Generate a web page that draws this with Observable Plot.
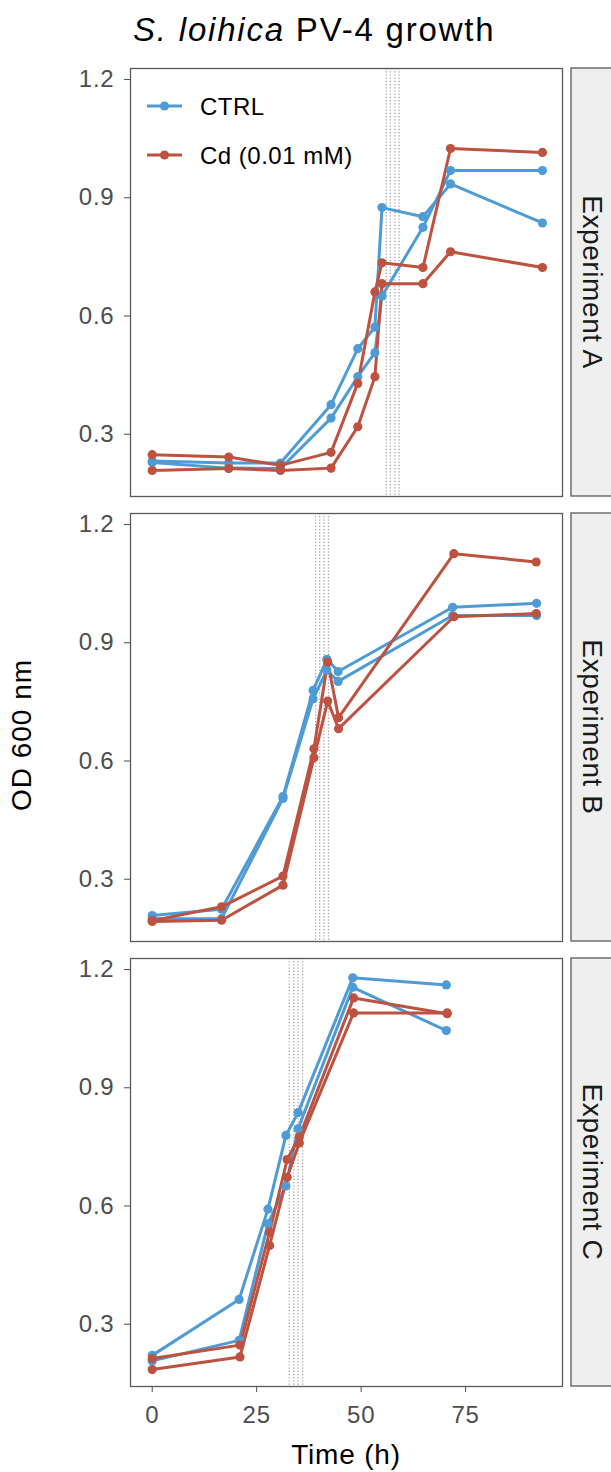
<!DOCTYPE html>
<html><head><meta charset="utf-8">
<script src="https://cdn.jsdelivr.net/npm/d3@7"></script>
<script src="https://cdn.jsdelivr.net/npm/@observablehq/plot@0.6"></script>
<style>
body{margin:0;background:#fff;font-family:"Liberation Sans",Arial,Helvetica,sans-serif;}
#wrap{position:relative;width:611px;height:1472px;overflow:hidden;background:#fff;}
.abs{position:absolute;white-space:nowrap;color:#000;}
</style></head><body><div id="wrap"></div>
<script>
// ---------- data ----------
const experiments = ["Experiment A", "Experiment B", "Experiment C"];
const conditions = ["CTRL", "Cd (0.01 mM)"];
const conditionColors = ["#4e9bd5", "#bd5240"];
const xTicks = [0, 25, 50, 75];
const yTicks = [0.3, 0.6, 0.9, 1.2];

// Experiment A
const expA_timeCtrl = [0, 18.3, 30.7, 42.8, 49.2, 53.3, 55.0, 64.8, 71.4, 93.4];
const expA_ctrl1    = [0.232, 0.227, 0.227, 0.375, 0.517, 0.572, 0.875, 0.852, 0.935, 0.836];
const expA_ctrl2    = [0.228, 0.214, 0.213, 0.341, 0.446, 0.507, 0.651, 0.825, 0.969, 0.969];
const expA_timeCd   = [0, 18.3, 30.7, 42.8, 49.2, 53.3, 55.0, 64.8, 71.4, 93.4];
const expA_cd1      = [0.248, 0.242, 0.221, 0.254, 0.429, 0.661, 0.735, 0.723, 1.025, 1.015];
const expA_cd2      = [0.208, 0.213, 0.208, 0.214, 0.319, 0.446, 0.682, 0.682, 0.763, 0.723];

// Experiment B
const expB_timeCtrl = [0, 16.6, 31.3, 38.5, 41.8, 44.5, 71.9, 92.0];
const expB_ctrl1    = [0.208, 0.224, 0.510, 0.779, 0.858, 0.827, 0.990, 1.000];
const expB_ctrl2    = [0.200, 0.200, 0.505, 0.758, 0.830, 0.802, 0.969, 0.969];
const expB_timeCd   = [0, 16.6, 31.3, 38.7, 42.0, 44.6, 72.2, 91.9];
const expB_cd1      = [0.195, 0.230, 0.308, 0.631, 0.851, 0.710, 1.126, 1.105];
const expB_cd2      = [0.193, 0.196, 0.285, 0.608, 0.752, 0.682, 0.966, 0.974];

// Experiment C
const expC_timeCtrl = [0, 20.8, 27.7, 32.0, 34.9, 48.0, 70.4];
const expC_ctrl1    = [0.221, 0.363, 0.592, 0.779, 0.837, 1.179, 1.161];
const expC_ctrl2    = [0.207, 0.259, 0.555, 0.651, 0.796, 1.155, 1.045];
const expC_timeCd   = [0, 21.0, 28.1, 32.3, 35.2, 48.2, 70.6];
const expC_cd1      = [0.213, 0.247, 0.534, 0.718, 0.775, 1.128, 1.088];
const expC_cd2      = [0.185, 0.217, 0.500, 0.673, 0.760, 1.090, 1.090];

// dotted vertical reference lines (h)
const expA_vlines = [56.0, 57.0, 58.1, 59.1];
const expB_vlines = [39.1, 40.1, 41.1, 42.2];
const expC_vlines = [32.8, 33.9, 34.9, 36.0];

// ---------- build table ----------
const rows = [];
function addSeries(exp, cond, rep, times, values) {
  times.forEach((t, i) => rows.push({exp, cond, key: exp + "|" + cond + "|" + rep, time: t, od: values[i]}));
}
addSeries(experiments[0], conditions[0], 1, expA_timeCtrl, expA_ctrl1);
addSeries(experiments[0], conditions[0], 2, expA_timeCtrl, expA_ctrl2);
addSeries(experiments[0], conditions[1], 1, expA_timeCd, expA_cd1);
addSeries(experiments[0], conditions[1], 2, expA_timeCd, expA_cd2);
addSeries(experiments[1], conditions[0], 1, expB_timeCtrl, expB_ctrl1);
addSeries(experiments[1], conditions[0], 2, expB_timeCtrl, expB_ctrl2);
addSeries(experiments[1], conditions[1], 1, expB_timeCd, expB_cd1);
addSeries(experiments[1], conditions[1], 2, expB_timeCd, expB_cd2);
addSeries(experiments[2], conditions[0], 1, expC_timeCtrl, expC_ctrl1);
addSeries(experiments[2], conditions[0], 2, expC_timeCtrl, expC_ctrl2);
addSeries(experiments[2], conditions[1], 1, expC_timeCd, expC_cd1);
addSeries(experiments[2], conditions[1], 2, expC_timeCd, expC_cd2);
const vlines = [expA_vlines, expB_vlines, expC_vlines];

// ---------- layout ----------
const FONT = '"Liberation Sans", Arial, Helvetica, sans-serif';
const wrap = document.getElementById("wrap");
const frameTops = [68, 513, 958];
const PH = 428, MT = 10;

experiments.forEach((exp, i) => {
  const last = i === experiments.length - 1;
  const MB = last ? 80 : 8;
  const data = rows.filter(d => d.exp === exp);
  const svg = Plot.plot({
    width: 611,
    height: MT + PH + MB,
    marginTop: MT, marginBottom: MB, marginLeft: 130, marginRight: 49,
    x: {domain: [-5.2, 98.2], ticks: xTicks, tickSize: 6, tickPadding: 13, label: null, axis: last ? "bottom" : null},
    y: {domain: [0.142, 1.228], ticks: yTicks, tickFormat: d => d.toFixed(1), tickSize: 6, tickPadding: 10, label: null},
    color: {domain: conditions, range: conditionColors},
    style: {fontFamily: FONT, fontSize: "24px", color: "#4d4d4d", background: "transparent", overflow: "visible", letterSpacing: "0.8px"},
    marks: [
      Plot.ruleX(vlines[i], {x: d => d, stroke: "#a0a0a0", strokeWidth: 1.3, strokeDasharray: "1.2,2"}),
      Plot.line(data, {x: "time", y: "od", z: "key", stroke: "cond", strokeWidth: 3}),
      Plot.dot(data, {x: "time", y: "od", fill: "cond", r: 4.6}),
      Plot.frame({stroke: "#5a5a5a", strokeWidth: 1.3})
    ]
  });
  const s = d3.select(svg);
  // facet strip
  s.append("rect").attr("x", 571).attr("y", MT).attr("width", 60).attr("height", PH)
    .attr("fill", "#efefef").attr("stroke", "#5a5a5a").attr("stroke-width", 1.3);
  s.append("text").attr("transform", `translate(592,${MT + PH / 2}) rotate(90)`)
    .attr("text-anchor", "middle").attr("dominant-baseline", "central")
    .attr("font-size", 28).attr("fill", "#1a1a1a").attr("letter-spacing", "0.6px").text(exp);
  // legend inside first panel
  if (i === 0) {
    conditions.forEach((c, k) => {
      const y = 48 + k * 49;
      s.append("line").attr("x1", 147).attr("x2", 182).attr("y1", y).attr("y2", y)
        .attr("stroke", conditionColors[k]).attr("stroke-width", 3);
      s.append("circle").attr("cx", 164.5).attr("cy", y).attr("r", 4.6).attr("fill", conditionColors[k]);
      s.append("text").attr("x", 200).attr("y", y).attr("text-anchor", "start").attr("dominant-baseline", "central")
        .attr("font-size", 24).attr("fill", "#000").attr("letter-spacing", "0.5px").text(c);
    });
  }
  svg.style.position = "absolute";
  svg.style.left = "0px";
  svg.style.top = (frameTops[i] - MT) + "px";
  wrap.appendChild(svg);
});

// title
const title = document.createElement("div");
title.className = "abs";
title.style.cssText += "left:133px;top:13px;font-size:33px;line-height:33px;letter-spacing:1.8px;";
title.innerHTML = "<i>S. loihica</i> PV-4 growth";
wrap.appendChild(title);

// y axis title
const ylab = document.createElement("div");
ylab.className = "abs";
ylab.style.cssText += "left:22px;top:735px;font-size:28px;line-height:28px;letter-spacing:1px;transform:translate(-50%,-50%) rotate(-90deg);";
ylab.textContent = "OD 600 nm";
wrap.appendChild(ylab);

// x axis title
const xlab = document.createElement("div");
xlab.className = "abs";
xlab.style.cssText += "left:346px;top:1455px;font-size:28px;line-height:28px;letter-spacing:0.8px;transform:translate(-50%,-50%);";
xlab.textContent = "Time (h)";
wrap.appendChild(xlab);
</script>
</body></html>
